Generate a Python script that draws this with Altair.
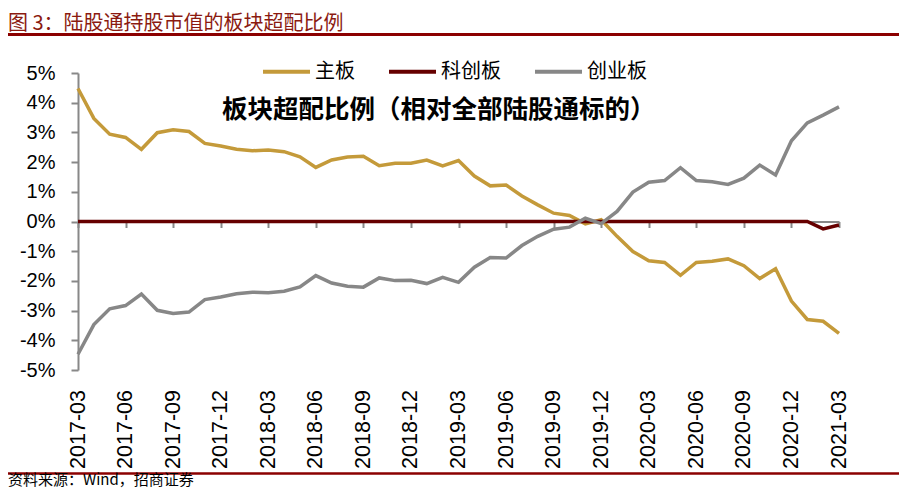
import altair as alt
import pandas as pd

dates = [
    "2017-03", "2017-04", "2017-05", "2017-06", "2017-07", "2017-08", "2017-09", "2017-10", "2017-11", "2017-12",
    "2018-01", "2018-02", "2018-03", "2018-04", "2018-05", "2018-06", "2018-07", "2018-08", "2018-09", "2018-10",
    "2018-11", "2018-12", "2019-01", "2019-02", "2019-03", "2019-04", "2019-05", "2019-06", "2019-07", "2019-08",
    "2019-09", "2019-10", "2019-11", "2019-12", "2020-01", "2020-02", "2020-03", "2020-04", "2020-05", "2020-06",
    "2020-07", "2020-08", "2020-09", "2020-10", "2020-11", "2020-12", "2021-01", "2021-02", "2021-03",
]

main_board = [4.48, 3.47, 2.94, 2.83, 2.43, 2.99, 3.09, 3.03, 2.63, 2.54,
              2.43, 2.38, 2.41, 2.35, 2.18, 1.82, 2.07, 2.17, 2.20, 1.88,
              1.96, 1.96, 2.07, 1.87, 2.05, 1.53, 1.20, 1.23, 0.86, 0.56,
              0.28, 0.20, -0.08, 0.06, -0.50, -1.01, -1.32, -1.38, -1.81, -1.38,
              -1.34, -1.26, -1.49, -1.92, -1.59, -2.68, -3.30, -3.36, -3.77]

star_board = [0.0, 0.0, 0.0, 0.0, 0.0, 0.0, 0.0, 0.0, 0.0, 0.0,
              0.0, 0.0, 0.0, 0.0, 0.0, 0.0, 0.0, 0.0, 0.0, 0.0,
              0.0, 0.0, 0.0, 0.0, 0.0, 0.0, 0.0, 0.0, 0.0, 0.0,
              0.0, 0.0, 0.0, 0.0, 0.0, 0.0, 0.0, 0.0, 0.0, 0.0,
              0.0, 0.0, 0.0, 0.0, 0.0, 0.0, 0.0, -0.25, -0.12]

gem_board = [-4.47, -3.47, -2.94, -2.83, -2.44, -2.99, -3.10, -3.05, -2.63, -2.54,
             -2.43, -2.38, -2.40, -2.35, -2.20, -1.82, -2.07, -2.18, -2.21, -1.90,
             -1.99, -1.98, -2.09, -1.88, -2.05, -1.54, -1.21, -1.23, -0.81, -0.50,
             -0.26, -0.19, 0.11, -0.07, 0.34, 0.99, 1.32, 1.38, 1.81, 1.38,
             1.34, 1.25, 1.46, 1.90, 1.57, 2.72, 3.32, 3.58, 3.86]

series_names = ["主板", "科创板", "创业板"]
series_colors = ["#C49A3A", "#660000", "#878787"]
tick_labels = dates[::3]
y_ticks = [-5, -4, -3, -2, -1, 0, 1, 2, 3, 4, 5]

rows = []
for name, vals in zip(series_names, [main_board, star_board, gem_board]):
    for d, v in zip(dates, vals):
        rows.append({"date": d, "value": v, "series": name})
df = pd.DataFrame(rows)

W, H = 761, 297
CJK = "Noto Sans CJK SC"
LAT = "Liberation Sans"

base = alt.Chart(df).encode(
    x=alt.X(
        "date:O",
        sort=None,
        scale=alt.Scale(type="point", padding=0),
        axis=alt.Axis(
            title=None,
            values=tick_labels,
            labelAngle=-90,
            labelFont=LAT,
            labelFontSize=21.5,
            labelColor="#000000",
            labelPadding=162,
            tickSize=6,
            tickWidth=2,
            tickColor="#888888",
            domainColor="#888888",
            domainWidth=2,
            offset=-H / 2,
            grid=False,
        ),
    ),
    y=alt.Y(
        "value:Q",
        scale=alt.Scale(domain=[-5, 5], nice=False, zero=False),
        axis=alt.Axis(
            title=None,
            values=y_ticks,
            labelExpr="datum.value + '%'",
            labelFont=LAT,
            labelFontSize=20,
            labelColor="#000000",
            labelPadding=16,
            tickSize=7,
            tickWidth=2,
            tickColor="#888888",
            domainColor="#888888",
            domainWidth=2,
            grid=False,
        ),
    ),
    color=alt.Color(
        "series:N",
        scale=alt.Scale(domain=series_names, range=series_colors),
        legend=alt.Legend(
            title=None,
            orient="none",
            legendX=183,
            legendY=-27,
            direction="horizontal",
            symbolType="stroke",
            symbolSize=2209,
            symbolStrokeWidth=4,
            labelFont=CJK,
            labelFontSize=20,
            labelColor="#000000",
            labelOffset=3,
            columnPadding=26,
        ),
    ),
)

lines = [
    base.transform_filter(alt.datum.series == name).mark_line(strokeWidth=3.5)
    for name in series_names
]


def text_layer(txt, x, y, size, color, weight="normal", font=CJK):
    return alt.Chart(pd.DataFrame({"t": [txt]})).mark_text(
        align="left", baseline="middle", fontSize=size, font=font,
        fontWeight=weight, color=color,
    ).encode(x=alt.value(x), y=alt.value(y), text="t:N")


def rule_layer(x1, x2, y, color, width):
    return alt.Chart(pd.DataFrame({"k": [0]})).mark_rule(
        color=color, strokeWidth=width
    ).encode(x=alt.value(x1), x2=alt.value(x2), y=alt.value(y))


title = text_layer("图 3：陆股通持股市值的板块超配比例", -70, -49.5, 20, "#8B1A10")
top_rule = rule_layer(-70, 821, -38.5, "#8B0000", 3)
inner_title = text_layer("板块超配比例（相对全部陆股通标的）", 144, 37, 25.5, "#000000", "bold")
bottom_rule = rule_layer(-70, 821, 400.5, "#8B0000", 2.5)
source = text_layer("资料来源：Wind，招商证券", -70, 407, 15, "#000000")

chart = alt.layer(
    *lines, title, top_rule, inner_title, bottom_rule, source
).properties(
    width=W,
    height=H,
    padding={"left": 70, "top": 65, "right": 60, "bottom": 120},
    autosize=alt.AutoSizeParams(type="none"),
    background="#FFFFFF",
).configure_view(stroke=None)

chart.save("out.html", embed_options={"renderer": "svg", "actions": False})
